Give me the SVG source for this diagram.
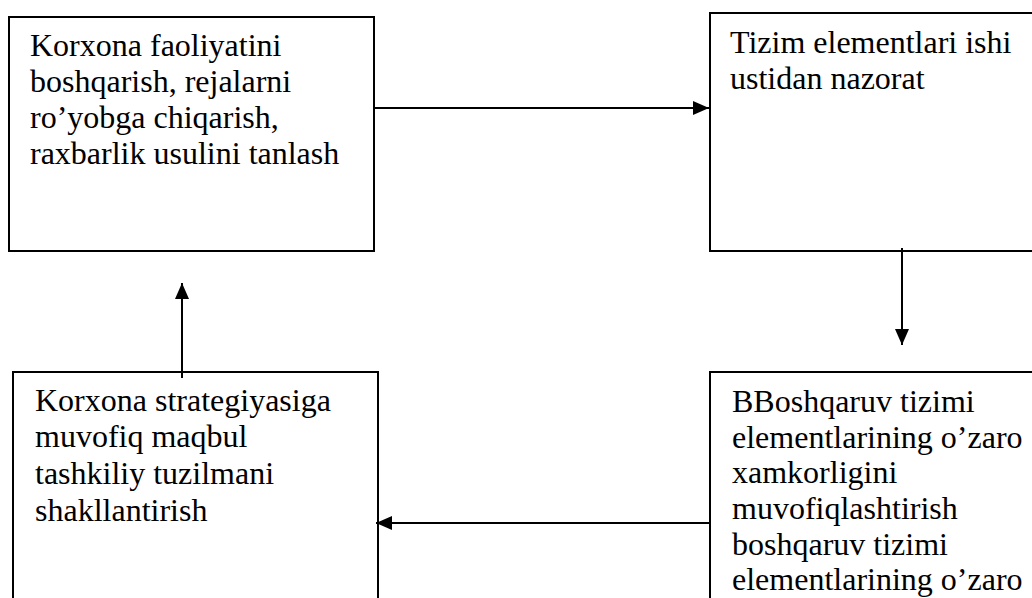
<svg xmlns="http://www.w3.org/2000/svg" width="1032" height="598" viewBox="0 0 1032 598">
<style>
.box{fill:#fff;stroke:#000;stroke-width:2}
.lbl{font-family:'Liberation Serif','Times New Roman',Times,'DejaVu Serif',serif;font-size:32px;fill:#000}
.conn{stroke:#000;stroke-width:2;fill:none}
</style>
<defs>
<marker id="ah" viewBox="0 0 16 14" refX="16" refY="7" markerWidth="16" markerHeight="14" markerUnits="userSpaceOnUse" orient="auto">
<path d="M0,0 L16,7 L0,14 Z" fill="#000"/>
</marker>
</defs>
<rect width="1032" height="598" fill="#fff"/>
<g id="node-tl">
<rect class="box" x="9" y="17" width="365" height="234"/>
<text class="lbl" font-family="Liberation Serif, serif" x="30" y="56">Korxona faoliyatini</text>
<text class="lbl" font-family="Liberation Serif, serif" x="30" y="92">boshqarish, rejalarni</text>
<text class="lbl" font-family="Liberation Serif, serif" x="30" y="128">ro’yobga chiqarish,</text>
<text class="lbl" font-family="Liberation Serif, serif" x="30" y="164">raxbarlik usulini tanlash</text>
</g>
<g id="node-tr">
<rect class="box" x="710" y="13" width="340" height="238"/>
<text class="lbl" font-family="Liberation Serif, serif" x="730" y="53">Tizim elementlari ishi</text>
<text class="lbl" font-family="Liberation Serif, serif" x="730" y="89">ustidan nazorat</text>
</g>
<g id="node-bl">
<rect class="box" x="13" y="372" width="365" height="240"/>
<text class="lbl" font-family="Liberation Serif, serif" x="35" y="411">Korxona strategiyasiga</text>
<text class="lbl" font-family="Liberation Serif, serif" x="35" y="447">muvofiq maqbul</text>
<text class="lbl" font-family="Liberation Serif, serif" x="35" y="484">tashkiliy tuzilmani</text>
<text class="lbl" font-family="Liberation Serif, serif" x="35" y="521">shakllantirish</text>
</g>
<g id="node-br">
<rect class="box" x="710" y="372" width="340" height="240"/>
<text class="lbl" font-family="Liberation Serif, serif" x="732" y="412">BBoshqaruv tizimi</text>
<text class="lbl" font-family="Liberation Serif, serif" x="732" y="448">elementlarining o’zaro</text>
<text class="lbl" font-family="Liberation Serif, serif" x="732" y="483">xamkorligini</text>
<text class="lbl" font-family="Liberation Serif, serif" x="732" y="519">muvofiqlashtirish</text>
<text class="lbl" font-family="Liberation Serif, serif" x="732" y="555">boshqaruv tizimi</text>
<text class="lbl" font-family="Liberation Serif, serif" x="732" y="590">elementlarining o’zaro</text>
</g>
<g id="connectors">
<line class="conn" x1="374" y1="108" x2="709" y2="108" marker-end="url(#ah)"/>
<line class="conn" x1="902" y1="248" x2="902" y2="345" marker-end="url(#ah)"/>
<line class="conn" x1="710" y1="523" x2="376" y2="523" marker-end="url(#ah)"/>
<line class="conn" x1="182" y1="378" x2="182" y2="283" marker-end="url(#ah)"/>
</g>
</svg>
